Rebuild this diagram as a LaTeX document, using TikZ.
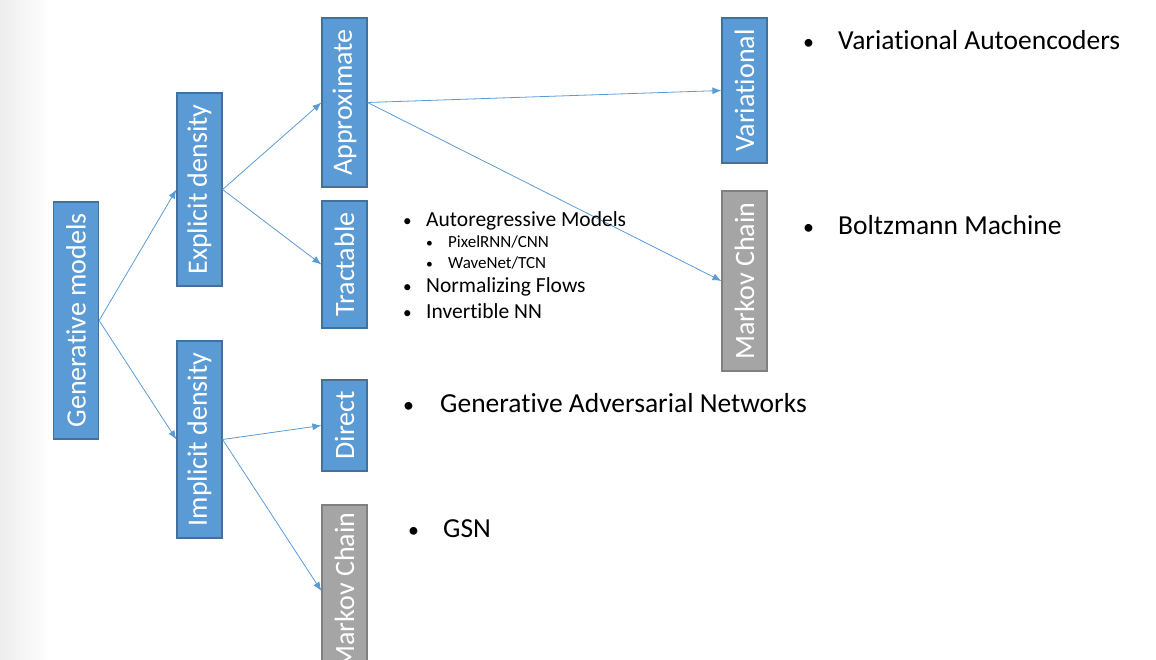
\documentclass[tikz,border=0pt]{standalone}
\usepackage{fontspec}
\setmainfont{Carlito}[Ligatures=NoCommon]
\usetikzlibrary{arrows.meta}

\definecolor{catblue}{HTML}{5B9BD5}
\definecolor{catblueline}{HTML}{41719C}
\definecolor{catgray}{HTML}{A5A5A5}
\definecolor{catgrayline}{HTML}{808080}

\newcommand{\vlabel}[1]{\rotatebox{90}{#1}}
\newcommand{\bul}[2]{\makebox[#1][l]{\scalebox{0.8}{\textbullet}}#2}

\begin{document}
\begin{tikzpicture}[x=1pt,y=-1pt,
	cat/.style={draw=catblueline, fill=catblue, line width=1.2pt, text=white, minimum width=45, inner sep=0pt, font=\fontsize{28}{34}\selectfont},
	chain/.style={cat, draw=catgrayline, fill=catgray},
	link/.style={-{Latex[length=9pt,width=7pt]}, catblue, line width=0.8pt},
	entry/.style={anchor=base west, inner sep=0pt, font=\fontsize{27.5}{33}\selectfont},
	subentry/.style={entry, font=\fontsize{21.5}{26}\selectfont},
	subsubentry/.style={entry, font=\fontsize{17}{20}\selectfont}]
				\useasboundingbox (0,0) rectangle (1156,660);
				\shade[left color=black!7, right color=white] (0,0) rectangle (50,660);
				
				% tree of boxes
				\node[cat, minimum height=237] (gen) at (76,320.5) {\vlabel{Generative models}};
				\node[cat, minimum height=193] (expl) at (199.5,189.5) {\vlabel{Explicit density}};
				\node[cat, minimum height=197] (impl) at (199.5,439.5) {\vlabel{Implicit density}};
				\node[cat, minimum height=169] (appr) at (344.5,102.5) {\vlabel{Approximate}};
				\node[cat, minimum height=127] (tract) at (344.5,264.5) {\vlabel{Tractable}};
				\node[cat, minimum height=91] (direct) at (344.5,425.5) {\vlabel{Direct}};
				\node[chain, minimum height=172] (mcimpl) at (344.5,591) {\vlabel{Markov Chain}};
				\node[cat, minimum height=145] (var) at (744.5,90.5) {\vlabel{Variational}};
				\node[chain, minimum height=180] (mcexpl) at (744.5,281) {\vlabel{Markov Chain}};
				
				\draw[link] (gen.east) -- (expl.west);
				\draw[link] (gen.east) -- (impl.west);
				\draw[link] (expl.east) -- (appr.west);
				\draw[link] (expl.east) -- (tract.west);
				\draw[link] (appr.east) -- (var.west);
				\draw[link] (appr.east) -- (mcexpl.west);
				\draw[link] (impl.east) -- (direct.west);
				\draw[link] (impl.east) -- (mcimpl.west);
				
				% examples
				\node[subentry] (ar) at (403,226.7) {\bul{23pt}{Autoregressive Models}};
				\node[subsubentry] (pix) at (426,248) {\bul{22pt}{PixelRNN/CNN}};
				\node[subsubentry] (wave) at (426,269) {\bul{22pt}{WaveNet/TCN}};
				\node[subentry] (flow) at (403,293) {\bul{23pt}{Normalizing Flows}};
				\node[subentry] (inn) at (403,318) {\bul{23pt}{Invertible NN}};
				
				\node[entry] (vae) at (803,50) {\bul{35pt}{Variational Autoencoders}};
				\node[entry] (boltz) at (803,235) {\bul{35pt}{Boltzmann Machine}};
				\node[entry] (gan) at (403,412) {\bul{37pt}{Generative Adversarial Networks}};
				\node[entry] (gsn) at (408,537) {\bul{35pt}{GSN}};
\end{tikzpicture}
\end{document}
